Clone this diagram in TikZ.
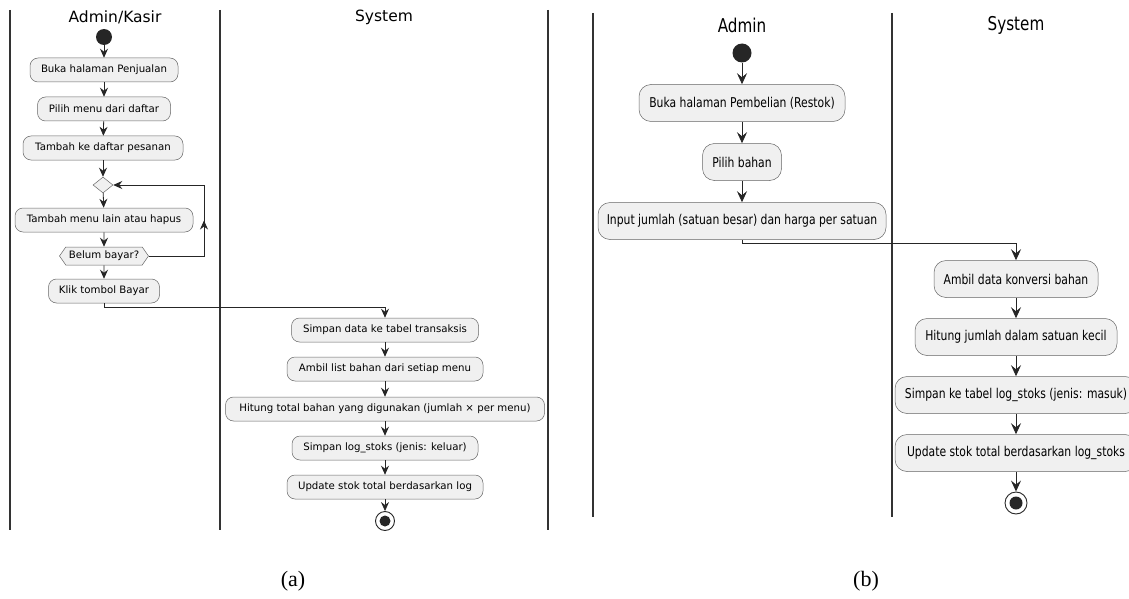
\documentclass[tikz,border=0pt]{standalone}
\usepackage{fontspec}
\setmainfont{DejaVu Sans}
\newfontfamily\condf[FakeStretch=0.8]{DejaVu Sans}
\newfontfamily\capf{Liberation Serif}
\usetikzlibrary{arrows.meta,shapes.geometric,shapes.symbols,calc}
\tikzset{
  act/.style={rounded corners=8pt, draw=black!60, fill=black!6, line width=0.5pt,
    minimum height=24pt, inner sep=0pt, font=\fontsize{10.2}{12}\selectfont},
  actb/.style={act, rounded corners=12pt, minimum height=37pt,
    font=\condf\fontsize{13.5}{16}\selectfont},
  flow/.style={-{Stealth[length=9pt,width=8pt,inset=3pt]}, line width=0.8pt, draw=black!85},
  flowb/.style={-{Stealth[length=11pt,width=10pt,inset=4pt]}, line width=0.9pt, draw=black!85},
  lane/.style={line width=1.4pt, draw=black!80},
  lanehead/.style={font=\fontsize{15.5}{18}\selectfont, inner sep=0pt},
  laneheadb/.style={font=\condf\fontsize{19}{22}\selectfont, inner sep=0pt},
  startnode/.style={circle, fill=black!85, inner sep=0pt},
  endring/.style={circle, draw=black!85, fill=white, line width=0.9pt, inner sep=0pt},
  enddot/.style={circle, fill=black!85, inner sep=0pt},
  choice/.style={diamond, draw=black!60, fill=black!6, line width=0.5pt, inner sep=0pt,
    minimum width=20pt, minimum height=16pt},
  guard/.style={signal, signal to=west and east, signal pointer angle=110, draw=black!60,
    fill=black!6, line width=0.5pt, inner sep=0pt, minimum height=18pt,
    font=\fontsize{10.2}{12}\selectfont},
  caption/.style={font=\capf\fontsize{22}{24}\selectfont, inner sep=0pt}
}
\begin{document}
\begin{tikzpicture}[x=1pt,y=-1pt]
\useasboundingbox (0,0) rectangle (1129,599);

% ---------- panel (a) ----------
\draw[lane] (10,10) -- (10,530);
\draw[lane] (220,10) -- (220,530);
\draw[lane] (548,10) -- (548,530);
\node[lanehead] (ha1) at (115,17) {Admin/Kasir};
\node[lanehead] (ha2) at (384,17) {System};

\node[startnode, minimum size=16pt] (sa) at (104,37) {};
\node[act, minimum width=148pt] (A1) at (104,70) {Buka halaman Penjualan};
\node[act, minimum width=133pt] (A2) at (104,109) {Pilih menu dari daftar};
\node[act, minimum width=160pt] (A3) at (103,148) {Tambah ke daftar pesanan};
\node[choice] (D1) at (103,185) {};
\node[act, minimum width=178pt] (A4) at (104,220) {Tambah menu lain atau hapus};
\node[guard, minimum width=89pt] (H1) at (104,256) {Belum bayar?};
\node[act, minimum width=111pt] (A5) at (104,291) {Klik tombol Bayar};

\node[act, minimum width=187pt] (S1) at (385,330) {Simpan data ke tabel transaksis};
\node[act, minimum width=196pt] (S2) at (385,369) {Ambil list bahan dari setiap menu};
\node[act, minimum width=319pt] (S3) at (385,409) {Hitung total bahan yang digunakan (jumlah × per menu)};
\node[act, minimum width=186pt] (S4) at (385,448) {Simpan log\_stoks (jenis: keluar)};
\node[act, minimum width=196pt] (S5) at (385,487) {Update stok total berdasarkan log};
\node[endring, minimum size=19pt] (ea) at (385,521) {};
\node[enddot, minimum size=11pt] (ead) at (ea.center) {};

\draw[flow] (sa) -- (A1);
\draw[flow] (A1) -- (A2);
\draw[flow] (A2) -- (A3);
\draw[flow] (A3) -- (D1);
\draw[flow] (D1) -- (A4);
\draw[flow] (A4) -- (H1);
\draw[flow] (H1) -- (A5);
\coordinate (L1) at (204,256);
\coordinate (L2) at (204,185);
\draw[line width=0.8pt, draw=black!85] (H1.east) -- (L1) -- (L2);
\draw[flow] (L1) -- ($(L1)!0.5!(L2)$);
\draw[flow] (L2) -- (D1.east);
\draw[flow] (A5.south) -- ++(0,4) -| (S1.north);
\draw[flow] (S1) -- (S2);
\draw[flow] (S2) -- (S3);
\draw[flow] (S3) -- (S4);
\draw[flow] (S4) -- (S5);
\draw[flow] (S5) -- (ea);

% ---------- panel (b) ----------
\draw[lane] (593,13) -- (593,517);
\draw[lane] (892,13) -- (892,517);
\node[laneheadb] (hb1) at (742,25) {Admin};
\node[laneheadb] (hb2) at (1016,25) {System};

\node[startnode, minimum size=19pt] (sb) at (742,53) {};
\node[actb, minimum width=206pt] (B1) at (742,103) {Buka halaman Pembelian (Restok)};
\node[actb, minimum width=79pt] (B2) at (742,162) {Pilih bahan};
\node[actb, minimum width=288pt] (B3) at (742,221) {Input jumlah (satuan besar) dan harga per satuan};

\node[actb, minimum width=164pt] (C1) at (1016,279) {Ambil data konversi bahan};
\node[actb, minimum width=202pt] (C2) at (1016,337) {Hitung jumlah dalam satuan kecil};
\node[actb, minimum width=242pt] (C3) at (1016,395) {Simpan ke tabel log\_stoks (jenis: masuk)};
\node[actb, minimum width=242pt] (C4) at (1016,453) {Update stok total berdasarkan log\_stoks};
\node[endring, minimum size=22pt] (eb) at (1016,503) {};
\node[enddot, minimum size=13pt] (ebd) at (eb.center) {};

\draw[flowb] (sb) -- (B1);
\draw[flowb] (B1) -- (B2);
\draw[flowb] (B2) -- (B3);
\draw[flowb] (B3.south) -- ++(0,4) -| (C1.north);
\draw[flowb] (C1) -- (C2);
\draw[flowb] (C2) -- (C3);
\draw[flowb] (C3) -- (C4);
\draw[flowb] (C4) -- (eb);

% ---------- captions ----------
\node[caption] (capa) at (293,581) {(a)};
\node[caption] (capb) at (866,581) {(b)};
\end{tikzpicture}
\end{document}
